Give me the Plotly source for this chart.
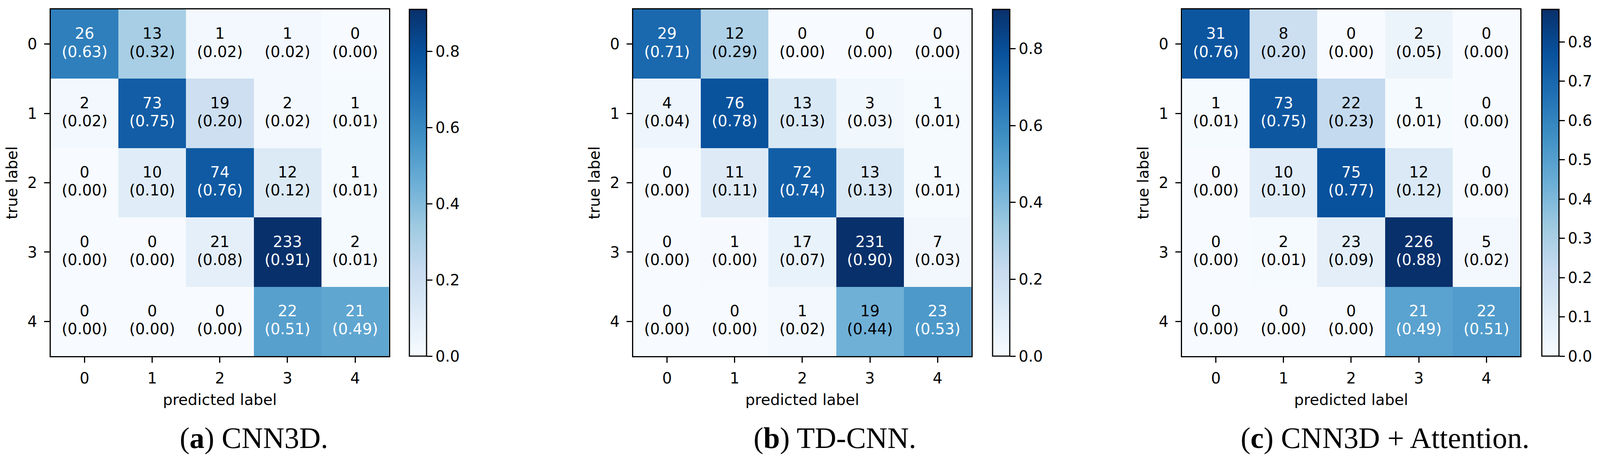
import numpy as np
import plotly.graph_objects as go

# reference frame the positions below were measured in
W, H = 4192, 1187

labels = [0, 1, 2, 3, 4]

# confusion matrices (counts), rows = true label, cols = predicted label
counts_a = [[26, 13, 1, 1, 0],
            [2, 73, 19, 2, 1],
            [0, 10, 74, 12, 1],
            [0, 0, 21, 233, 2],
            [0, 0, 0, 22, 21]]

counts_b = [[29, 12, 0, 0, 0],
            [4, 76, 13, 3, 1],
            [0, 11, 72, 13, 1],
            [0, 1, 17, 231, 7],
            [0, 0, 1, 19, 23]]

counts_c = [[31, 8, 0, 2, 0],
            [1, 73, 22, 1, 0],
            [0, 10, 75, 12, 0],
            [0, 2, 23, 226, 5],
            [0, 0, 0, 21, 22]]

captions = ["(<b>a</b>) CNN3D.", "(<b>b</b>) TD-CNN.", "(<b>c</b>) CNN3D + Attention."]
cbar_dticks = [0.2, 0.2, 0.1]

# pixel boxes of each heatmap (left, right), shared top/bottom
boxes = [(133, 1019), (1659, 2545), (3097, 3983)]
cbar_left = [1073, 2601, 4039]
caption_x = [665, 2188, 3629]
top_px, bot_px = 24, 911
line_off = 0.13  # half gap between count line and fraction line, in cell units

FONT = "DejaVu Sans"
FS = 39

fig = go.Figure()

for k, counts in enumerate([counts_a, counts_b, counts_c]):
    cm = np.array(counts, dtype=float)
    frac = cm / cm.sum(axis=1, keepdims=True)
    zmax = frac.max()
    thresh = (zmax + frac.min()) / 2.0
    sfx = "" if k == 0 else str(k + 1)

    fig.add_trace(go.Heatmap(
        z=frac, x=labels, y=labels,
        colorscale="Blues", zmin=0, zmax=zmax,
        xaxis="x" + sfx, yaxis="y" + sfx,
        hoverinfo="skip",
        colorbar=dict(
            x=cbar_left[k] / W, xanchor="left", xref="paper",
            y=1 - bot_px / H, yanchor="bottom",
            len=(bot_px - top_px) / H, lenmode="fraction",
            thickness=45 / W, thicknessmode="fraction",
            outlinecolor="black", outlinewidth=3,
            xpad=0, ypad=0,
            ticks="outside", ticklen=14, tickwidth=3, tickcolor="black",
            tick0=0, dtick=cbar_dticks[k], tickformat=".1f",
            tickfont=dict(family=FONT, size=FS, color="black"),
        ),
    ))

    xs, ys, t_cnt, t_frac, cols = [], [], [], [], []
    for i in range(5):
        for j in range(5):
            xs.append(labels[j])
            ys.append(labels[i])
            t_cnt.append("%d" % counts[i][j])
            t_frac.append("(%.2f)" % frac[i, j])
            cols.append("white" if frac[i, j] > thresh else "black")
    for txt, off in [(t_cnt, -line_off), (t_frac, line_off)]:
        fig.add_trace(go.Scatter(
            x=xs, y=[v + off for v in ys], mode="text", text=txt,
            textposition="middle center",
            textfont=dict(family=FONT, size=FS, color=cols),
            xaxis="x" + sfx, yaxis="y" + sfx,
            showlegend=False, hoverinfo="skip",
        ))

    l, r = boxes[k]
    axis_common = dict(
        showline=True, linecolor="black", linewidth=3, mirror=True,
        ticks="outside", ticklen=14, tickwidth=3, tickcolor="black",
        tickmode="array", tickvals=labels, ticktext=[str(v) for v in labels],
        tickfont=dict(family=FONT, size=FS, color="black"),
        showgrid=False, zeroline=False,
        range=[-0.5, 4.5],
    )
    fig.update_layout(**{
        "xaxis" + sfx: dict(
            axis_common,
            domain=[l / W, r / W],
            anchor="y" + sfx,
            ticklabelstandoff=6,
            title=dict(text="predicted label", standoff=20,
                       font=dict(family=FONT, size=FS, color="black")),
        ),
        "yaxis" + sfx: dict(
            axis_common,
            range=[4.5, -0.5],
            domain=[1 - bot_px / H, 1 - top_px / H],
            anchor="x" + sfx,
            ticklabelstandoff=10,
            title=dict(text="true label", standoff=14,
                       font=dict(family=FONT, size=FS, color="black")),
        ),
    })

    fig.add_annotation(
        text=captions[k], xref="paper", yref="paper",
        x=caption_x[k] / W, y=1 - 1120 / H,
        xanchor="center", yanchor="middle", showarrow=False,
        font=dict(family="Liberation Serif", size=76, color="black"),
    )

# size follows the browser window, so everything above is placed in fractions
fig.update_layout(
    autosize=True,
    margin=dict(l=0, r=0, t=0, b=0, autoexpand=False),
    paper_bgcolor="white", plot_bgcolor="white",
    showlegend=False,
)

fig.write_html("out.html", config={"displayModeBar": False, "responsive": True},
               default_width="100vw", default_height="100vh",
               post_script="document.body.style.margin='0';document.body.style.overflow='hidden';")
